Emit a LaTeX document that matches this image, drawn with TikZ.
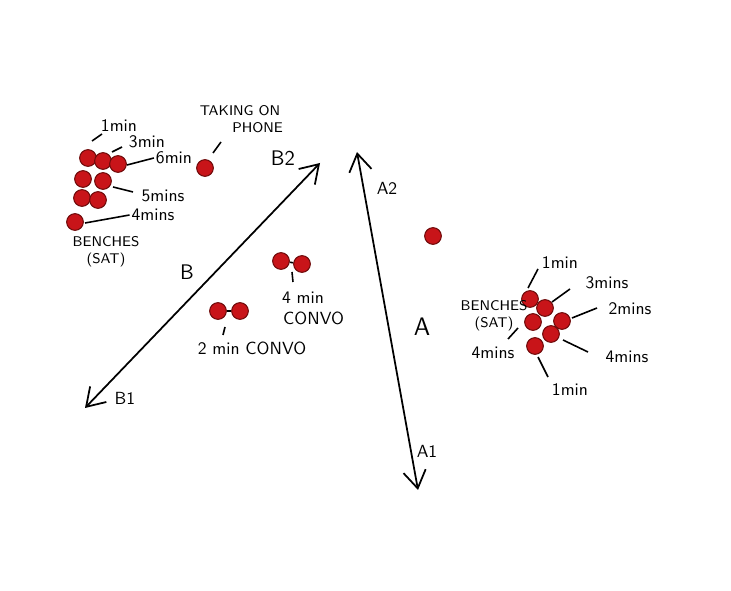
\documentclass[tikz,border=0pt]{standalone}
\usepackage{tikz}
\usetikzlibrary{arrows.meta}
\definecolor{dotred}{RGB}{200,20,25}
\definecolor{dotrim}{RGB}{110,10,10}
\tikzset{
  dot/.style={circle,fill=dotred,draw=dotrim,line width=0.6pt,inner sep=0pt,minimum size=9.5pt},
  lbl/.style={font=\sffamily,inner sep=1pt},
  caps/.style={font=\sffamily\footnotesize,inner sep=1pt,align=center},
  tick/.style={line width=0.9pt},
  walk/.style={line width=1pt,{Straight Barb[length=3.5mm,width=4.5mm]}-{Straight Barb[length=3.5mm,width=4.5mm]}}
}
\begin{document}
\begin{tikzpicture}[x=0.02cm,y=-0.02cm]
\useasboundingbox (0,0) rectangle (731,591);
% benches on the left
\node[dot] (l1) at (88,158) {};
\node[dot] (l2) at (103,161) {};
\node[dot] (l3) at (118,164) {};
\node[dot] (l4) at (83,179) {};
\node[dot] (l5) at (103,181) {};
\node[dot] (l6) at (82,198) {};
\node[dot] (l7) at (98,200) {};
\node[dot] (l8) at (75,222) {};
\node[dot] (ph) at (205,168) {};
\node[lbl] (m1) at (119,126) {1min};
\node[lbl] (m3) at (147,142) {3min};
\node[lbl] (m6) at (174,158) {6min};
\node[lbl] (m5) at (163,196) {5mins};
\node[lbl] (m4) at (153,215) {4mins};
\node[caps] (bl) at (106,252) {BENCHES\\(SAT)};
\node[caps] (phl) at (240,119) {TAKING ON\\\hspace*{2.5em}PHONE};
\draw[tick] (92,141) -- (102,134);
\draw[tick] (112,152) -- (122,147);
\draw[tick] (l3) ++(9,1) -- (m6.west);
\draw[tick] (113,187) -- (133,192);
\draw[tick] (l8) ++(10,1) -- (m4.west);
\draw[tick] (213,153) -- (221,142);
% route B
\coordinate (b2) at (320,163);
\coordinate (b1) at (85,408);
\draw[walk] (b1) -- (b2);
\node[lbl,font=\sffamily\large] (b2l) at (283,158) {B2};
\node[lbl] (b1l) at (125,398) {B1};
\node[lbl,font=\sffamily\large] (bt) at (187,272) {B};
% conversations
\node[dot] (c1) at (281,261) {};
\node[dot] (c2) at (302,264) {};
\draw[tick] (c1) -- (c2);
\node[lbl,align=center] (c4l) at (303,308) {4 min\\\hspace*{1.2em}CONVO};
\draw[tick] (292,272) -- (293,282);
\node[dot] (c3) at (218,311) {};
\node[dot] (c4) at (240,311) {};
\draw[tick] (c3) -- (c4);
\node[lbl] (c2l) at (252,348) {2 min CONVO};
\draw[tick] (225,327) -- (223,335);
% route A
\coordinate (a2) at (357,152);
\coordinate (a1) at (418,490);
\draw[walk] (a1) -- (a2);
\node[lbl] (a2l) at (387,188) {A2};
\node[lbl] (a1l) at (427,451) {A1};
\node[lbl,font=\sffamily\Large] (at) at (422,327) {A};
\node[dot] (lone) at (433,236) {};
% benches on the right
\node[dot] (r1) at (530,299) {};
\node[dot] (r2) at (545,308) {};
\node[dot] (r3) at (533,322) {};
\node[dot] (r4) at (562,321) {};
\node[dot] (r5) at (551,334) {};
\node[dot] (r6) at (535,346) {};
\node[caps] (br) at (494,316) {BENCHES\\(SAT)};
\node[lbl] (n1) at (560,263) {1min};
\node[lbl] (n3) at (607,283) {3mins};
\node[lbl] (n2) at (630,309) {2mins};
\node[lbl] (n4) at (627,357) {4mins};
\node[lbl] (n5) at (570,390) {1min};
\node[lbl] (n6) at (493,353) {4mins};
\draw[tick] (528,288) -- (538,269);
\draw[tick] (552,302) -- (570,289);
\draw[tick] (572,318) -- (597,308);
\draw[tick] (563,340) -- (588,352);
\draw[tick] (538,357) -- (548,377);
\draw[tick] (518,328) -- (508,339);
\end{tikzpicture}
\end{document}
